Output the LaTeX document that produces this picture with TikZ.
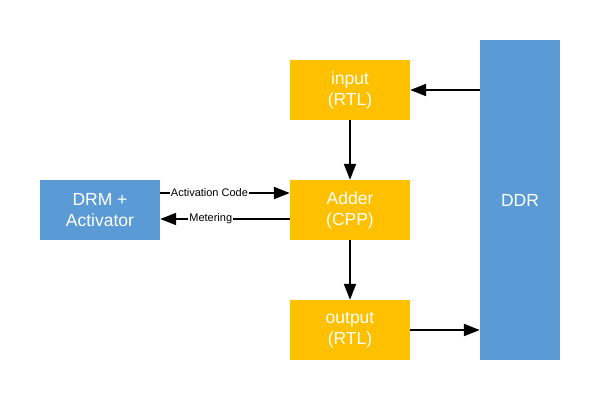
\documentclass[tikz,border=0pt]{standalone}
\usepackage{fontspec}
\setmainfont{Liberation Sans}
\usetikzlibrary{arrows.meta}
\definecolor{boxblue}{HTML}{5B9BD5}
\definecolor{boxorange}{HTML}{FFC000}
\begin{document}
\begin{tikzpicture}[x=1pt,y=-1pt,
  blk/.style={draw=none,text=white,font=\fontsize{17.5}{21}\selectfont,align=center,inner sep=0pt},
  orangebox/.style={blk,fill=boxorange,minimum width=120pt,minimum height=60pt},
  bluebox/.style={blk,fill=boxblue},
  conn/.style={line width=2pt,-{Triangle[length=16pt,width=12pt]}},
  lbl/.style={fill=white,font=\fontsize{11}{13}\selectfont,inner sep=1pt}]
\useasboundingbox (0,0) rectangle (600,400);
\node[bluebox,minimum width=120pt,minimum height=60pt] (drm) at (100,210) {DRM +\\Activator};
\node[orangebox] (input) at (350,90) {input\\(RTL)};
\node[orangebox] (adder) at (350,210) {Adder\\(CPP)};
\node[orangebox] (output) at (350,330) {output\\(RTL)};
\node[bluebox,minimum width=80pt,minimum height=320pt] (ddr) at (520,200) {DDR};
\draw[conn] (ddr.west |- input.east) -- (input.east);
\draw[conn] (input.south) -- (adder.north);
\draw[conn] (adder.south) -- (output.north);
\draw[conn] (output.east) -- (ddr.west |- output.east);
\draw[conn] ([yshift=17pt]drm.east) -- node[lbl,pos=0.38]{Activation Code} ([yshift=17pt]drm.east -| adder.west);
\draw[conn] ([yshift=-9pt]adder.west) -- node[lbl,pos=0.61]{Metering} ([yshift=-9pt]adder.west -| drm.east);
\end{tikzpicture}
\end{document}
